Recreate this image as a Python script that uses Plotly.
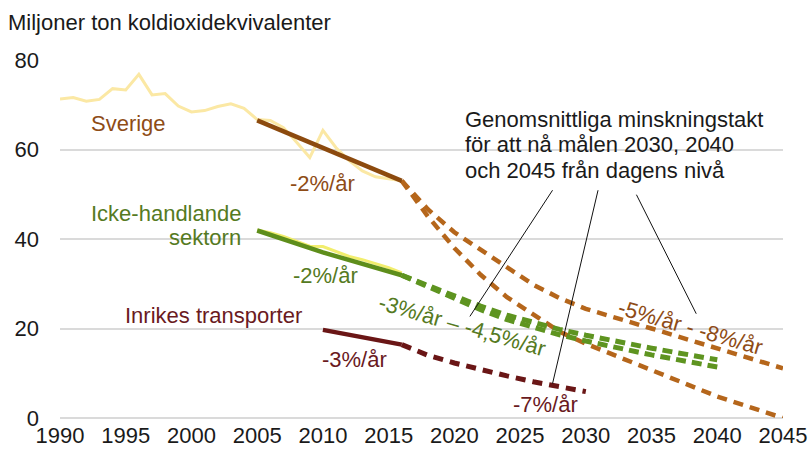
import plotly.graph_objects as go

FONT = "Liberation Sans, Arial, sans-serif"

# ---------------- data ----------------
years_sv = list(range(1990, 2017))
sverige = [71.3, 71.6, 70.8, 71.2, 73.6, 73.3, 76.8, 72.2, 72.5, 69.7, 68.4, 68.7, 69.6,
           70.2, 69.2, 66.7, 66.5, 64.9, 61.6, 58.2, 64.3, 60.4, 57.5, 55.2, 53.9, 53.4, 53.0]

sv_trend_years = [2005, 2010, 2015, 2016]
sv_trend = [66.5, 60.4, 54.3, 53.0]

sv_path_years_a = [2016, 2018, 2020, 2022, 2024, 2026, 2028, 2030, 2035, 2040, 2045]
sv_path_a = [53.0, 46.6, 41.5, 37.6, 33.5, 29.8, 26.8, 24.4, 20.0, 15.5, 11.1]
sv_path_years_b = [2016, 2018, 2020, 2022, 2024, 2026, 2028, 2030, 2032, 2035, 2040, 2045]
sv_path_b = [53.0, 45.0, 38.0, 32.0, 27.0, 23.0, 19.3, 16.6, 14.2, 10.6, 4.8, 0.0]

ets_years = list(range(2005, 2017))
icke_handlande = [42.0, 41.4, 40.6, 39.5, 38.4, 38.3, 37.2, 36.1, 35.4, 34.5, 33.6, 32.4]
ih_trend_years = [2005, 2010, 2016]
ih_trend = [41.9, 37.0, 31.9]
ih_path_years = [2016, 2018, 2020, 2022, 2024, 2026, 2028, 2030, 2035, 2040]
ih_path_a = [31.9, 29.6, 27.2, 25.0, 23.0, 21.3, 19.8, 18.5, 15.6, 13.0]
ih_path_b = [31.9, 29.3, 26.6, 24.2, 22.0, 20.2, 18.6, 17.2, 14.1, 11.4]

tr_trend_years = [2010, 2016]
tr_trend = [19.7, 16.4]
tr_path_years = [2016, 2018, 2020, 2022, 2024, 2026, 2028, 2030]
tr_path = [16.4, 14.0, 12.3, 10.8, 9.4, 8.1, 7.0, 5.9]

x_ticks = list(range(1990, 2046, 5))
y_ticks = [0, 20, 40, 60, 80]

note_lines = ["Genomsnittliga minskningstakt", "för att nå målen 2030, 2040",
              "och 2045 från dagens nivå"]

# ---------------- colours ----------------
YELLOW = "#FBE8A4"
BROWN = "#8C4A0E"
BROWN_D = "#B5661B"
BROWN_T = "#8E4C16"
GREEN = "#5E8E1B"
GREEN_D = "#5E9420"
GREEN_T = "#557A22"
RED = "#6A1616"
RED_T = "#6A1A1E"
FS = 22

fig = go.Figure()

def line(x, y, color, width, dash=None):
    fig.add_trace(go.Scatter(x=x, y=y, mode="lines", hoverinfo="skip",
                             line=dict(color=color, width=width, dash=dash or "solid")))

line(years_sv, sverige, YELLOW, 3)
line(ets_years, icke_handlande, "#F2EE6E", 3)
line(sv_path_years_a, sv_path_a, BROWN_D, 4.5, "10px,7px")
line(sv_path_years_b, sv_path_b, BROWN_D, 4.5, "10px,7px")
line(ih_path_years, ih_path_a, GREEN_D, 5, "10px,6px")
line(ih_path_years, ih_path_b, GREEN_D, 5, "10px,6px")
line(tr_path_years, tr_path, RED, 5, "10px,7px")
line(sv_trend_years, sv_trend, BROWN, 4.5)
line(ih_trend_years, ih_trend, GREEN, 4.5)
line(tr_trend_years, tr_trend, RED, 4.5)

# pointer lines
for (x0, y0, x1, y1) in [(2027.47, 50.9, 2021.18, 22.7),
                         (2030.93, 50.9, 2027.47, 7.7),
                         (2033.85, 49.9, 2038.4, 23.3)]:
    fig.add_shape(type="line", xref="x", yref="y", x0=x0, y0=y0, x1=x1, y1=y1,
                  line=dict(color="#111111", width=1))

def label(text, x, y, color, xanchor="center", angle=0, size=FS, align="center"):
    fig.add_annotation(x=x, y=y, xref="x", yref="y", text=text, showarrow=False,
                       xanchor=xanchor, yanchor="middle", textangle=angle, align=align,
                       font=dict(family=FONT, size=size, color=color))

label("Sverige", 1995.2, 65.9, BROWN_T)
label("-2%/år", 2010.0, 52.5, BROWN_T)
label("Icke-handlande", 2003.92, 45.8, GREEN_T, xanchor="right")
label("sektorn", 2003.92, 40.3, GREEN_T, xanchor="right")
label("-2%/år", 2010.2, 31.8, GREEN_T)
label("Inrikes transporter", 2001.7, 22.8, RED_T)
label("-3%/år", 2012.4, 13.0, RED_T)
label("-7%/år", 2026.9, 3.1, RED_T)
label("-3%/år – -4,5%/år", 2020.6, 20.6, GREEN_T, angle=16)
label("-5%/år - -8%/år", 2038.0, 20.3, BROWN_T, angle=16)
for txt, yv in zip(note_lines, [66.8, 61.2, 55.4]):
    label(txt, 2020.66, yv, "#1a1a1a", xanchor="left")

W, H = 811, 456
fig.update_layout(
    width=W, height=H,
    margin=dict(l=60, r=28, t=60, b=38, autoexpand=False),
    paper_bgcolor="white", plot_bgcolor="white",
    showlegend=False,
    font=dict(family=FONT, size=FS, color="#1a1a1a"),
    title=dict(text="Miljoner ton koldioxidekvivalenter", xref="container", x=8/W,
               xanchor="left", yref="container", y=1-22/H, yanchor="middle",
               font=dict(family=FONT, size=FS, color="#1a1a1a")),
)
fig.update_xaxes(range=[1990, 2045], tickvals=x_ticks, ticktext=[str(v) for v in x_ticks],
                 showgrid=False, zeroline=False, showline=False, ticks="",
                 ticklabelstandoff=2, tickfont=dict(size=FS, color="#1a1a1a"))
fig.update_yaxes(range=[0, 80], tickvals=y_ticks, ticktext=[str(v) for v in y_ticks],
                 showgrid=True, gridcolor="#DADADA", gridwidth=1.5,
                 zeroline=True, zerolinecolor="#DADADA", zerolinewidth=1.5,
                 showline=False, ticks="", ticklabelstandoff=20,
                 tickfont=dict(size=FS, color="#1a1a1a"))

# remove the default page margin so the figure fills the window exactly
fig.write_html("out.html", config={"displayModeBar": False}, post_script=(
    "document.body.style.margin='0';"
    "document.body.style.overflow='hidden';"
    "document.documentElement.style.overflow='hidden';"))
